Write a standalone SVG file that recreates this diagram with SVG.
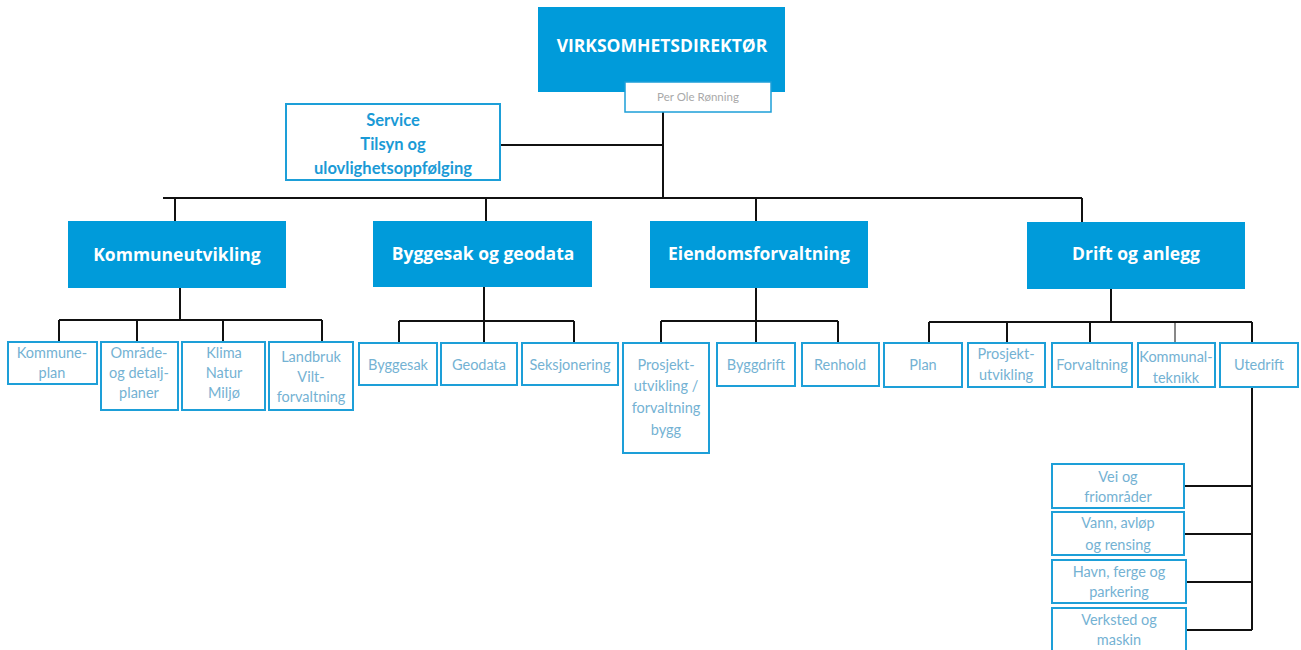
<svg xmlns="http://www.w3.org/2000/svg" width="1301" height="650" viewBox="0 0 1301 650">
<style>
.hd{fill:#009bda}
.ht{fill:#fff;font-family:"Open Sans","Liberation Sans",sans-serif;font-weight:bold;font-size:17.5px;text-anchor:middle}
.bx{fill:#fff;stroke:#1d9fd8;stroke-width:2}
.ct{fill:#74b2d3;font-family:Lato,"Liberation Sans",sans-serif;font-size:14.5px;text-anchor:middle}
.sv{fill:#1a9ad6;font-family:Lato,"Liberation Sans",sans-serif;font-weight:bold;font-size:16.5px;text-anchor:middle}
.ln{stroke:#111;stroke-width:2;fill:none}
</style>
<rect width="1301" height="650" fill="#fff"/>
<g id="connectors" class="ln">
<path d="M663 112V198M500 145H663M163 198H1082M175 198V221M486 198V221M756 198V221M1082 198V222"/>
<path d="M180 288V320M59 320H322M59 320V341M137 320V341M223 320V341M322 320V341"/>
<path d="M484 287V321M399 321H574M399 321V343M484 321V343M574 321V343"/>
<path d="M756 288V321M661 321H838M661 321V343M756 321V343M838 321V343"/>
<path d="M1111 289V322M929 322H1252M929 322V343M1007 322V343M1090 322V343M1252 322V343"/>
<path d="M1175 322V343" stroke-width="1"/>
<path d="M1252 387V630M1185 486H1252M1185 534H1252M1187 582H1252M1187 630H1252"/>
</g>
<g id="direktor">
<rect class="hd" x="538" y="7" width="247" height="85"/>
<text class="ht" x="662" y="52">VIRKSOMHETSDIREKTØR</text>
</g>
<g id="per-ole">
<rect x="625" y="82" width="146" height="30" fill="#fff" stroke="#1d9fd8" stroke-width="1.5"/>
<text x="698" y="101" fill="#a9a9a9" font-family="Lato,'Liberation Sans',sans-serif" font-size="11.5" text-anchor="middle">Per Ole Rønning</text>
</g>
<g id="service">
<rect class="bx" x="286" y="104" width="214" height="76"/>
<text class="sv" x="393" y="126">Service</text>
<text class="sv" x="393" y="150">Tilsyn og</text>
<text class="sv" x="393" y="174">ulovlighetsoppfølging</text>
</g>
<g id="kommuneutvikling">
<rect class="hd" x="68" y="221" width="218" height="67"/>
<text class="ht" x="177" y="261">Kommuneutvikling</text>
</g>
<g id="byggesak-geodata">
<rect class="hd" x="373" y="221" width="219" height="66"/>
<text class="ht" x="483" y="260">Byggesak og geodata</text>
</g>
<g id="eiendomsforvaltning">
<rect class="hd" x="650" y="221" width="218" height="67"/>
<text class="ht" x="759" y="260">Eiendomsforvaltning</text>
</g>
<g id="drift-anlegg">
<rect class="hd" x="1027" y="222" width="218" height="67"/>
<text class="ht" x="1136" y="260">Drift og anlegg</text>
</g>
<g id="kommuneplan">
<rect class="bx" x="8" y="342" width="89" height="42"/>
<text class="ct" x="52" y="358">Kommune-</text>
<text class="ct" x="52" y="378">plan</text>
</g>
<g id="omrade">
<rect class="bx" x="101" y="342" width="77" height="68"/>
<text class="ct" x="139" y="358">Område-</text>
<text class="ct" x="139" y="378">og detalj-</text>
<text class="ct" x="139" y="398">planer</text>
</g>
<g id="klima">
<rect class="bx" x="182" y="342" width="83" height="68"/>
<text class="ct" x="224" y="358">Klima</text>
<text class="ct" x="224" y="378">Natur</text>
<text class="ct" x="224" y="398">Miljø</text>
</g>
<g id="landbruk">
<rect class="bx" x="269" y="342" width="84" height="68"/>
<text class="ct" x="311" y="362">Landbruk</text>
<text class="ct" x="311" y="382">Vilt-</text>
<text class="ct" x="311" y="402">forvaltning</text>
</g>
<g id="byggesak">
<rect class="bx" x="359" y="343" width="78" height="42"/>
<text class="ct" x="398" y="370">Byggesak</text>
</g>
<g id="geodata">
<rect class="bx" x="441" y="343" width="76" height="42"/>
<text class="ct" x="479" y="370">Geodata</text>
</g>
<g id="seksjonering">
<rect class="bx" x="522" y="343" width="96" height="42"/>
<text class="ct" x="570" y="370">Seksjonering</text>
</g>
<g id="prosjektutvikling-bygg">
<rect class="bx" x="623" y="343" width="86" height="110"/>
<text class="ct" x="666" y="370">Prosjekt-</text>
<text class="ct" x="666" y="391">utvikling /</text>
<text class="ct" x="666" y="413">forvaltning</text>
<text class="ct" x="666" y="435">bygg</text>
</g>
<g id="byggdrift">
<rect class="bx" x="717" y="343" width="78" height="43"/>
<text class="ct" x="756" y="370">Byggdrift</text>
</g>
<g id="renhold">
<rect class="bx" x="802" y="343" width="77" height="43"/>
<text class="ct" x="840" y="370">Renhold</text>
</g>
<g id="plan">
<rect class="bx" x="884" y="343" width="78" height="44"/>
<text class="ct" x="923" y="370">Plan</text>
</g>
<g id="prosjektutvikling">
<rect class="bx" x="968" y="343" width="77" height="44"/>
<text class="ct" x="1006" y="359">Prosjekt-</text>
<text class="ct" x="1006" y="380">utvikling</text>
</g>
<g id="forvaltning">
<rect class="bx" x="1052" y="343" width="80" height="44"/>
<text class="ct" x="1092" y="370">Forvaltning</text>
</g>
<g id="kommunalteknikk">
<rect class="bx" x="1138" y="343" width="77" height="44"/>
<text class="ct" x="1176" y="362" font-size="13.5">Kommunal-</text>
<text class="ct" x="1176" y="383" font-size="13.5">teknikk</text>
</g>
<g id="utedrift">
<rect class="bx" x="1220" y="343" width="78" height="44"/>
<text class="ct" x="1259" y="370">Utedrift</text>
</g>
<g id="vei">
<rect class="bx" x="1052" y="464" width="132" height="44"/>
<text class="ct" x="1118" y="482">Vei og</text>
<text class="ct" x="1118" y="502">friområder</text>
</g>
<g id="vann">
<rect class="bx" x="1052" y="512" width="132" height="43"/>
<text class="ct" x="1118" y="528">Vann, avløp</text>
<text class="ct" x="1118" y="550">og rensing</text>
</g>
<g id="havn">
<rect class="bx" x="1052" y="560" width="134" height="43"/>
<text class="ct" x="1119" y="577">Havn, ferge og</text>
<text class="ct" x="1119" y="597">parkering</text>
</g>
<g id="verksted">
<rect class="bx" x="1052" y="608" width="134" height="46"/>
<text class="ct" x="1119" y="625">Verksted og</text>
<text class="ct" x="1119" y="645">maskin</text>
</g>
</svg>
